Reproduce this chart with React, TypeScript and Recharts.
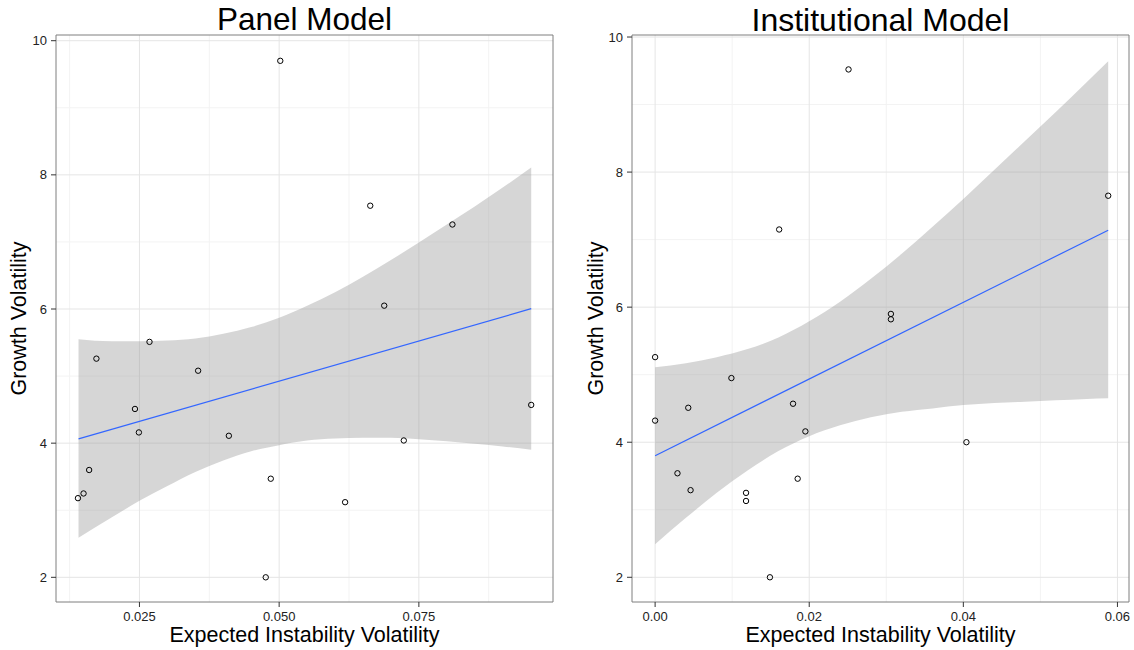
import React from 'react';
import {
  ComposedChart,
  XAxis,
  YAxis,
  Area,
  Line,
  Scatter,
  CartesianGrid,
  ReferenceArea,
  Label
} from 'recharts';

// Panel Model: scatter points
const panelX = [0.0502, 0.0663, 0.081, 0.0688, 0.0268, 0.0173, 0.0355, 0.0242, 0.0249, 0.041, 0.0951, 0.0723, 0.016, 0.0485, 0.015, 0.014, 0.0618, 0.0476];
const panelY = [9.7, 7.54, 7.26, 6.05, 5.51, 5.26, 5.08, 4.51, 4.16, 4.11, 4.57, 4.04, 3.6, 3.47, 3.25, 3.18, 3.12, 2.0];
// Panel Model: fitted line and confidence band
const panelFitX = [0.0141, 0.0951];
const panelFitY = [4.065, 6.005];
const panelBandX = [0.0141, 0.02, 0.025, 0.03, 0.035, 0.04, 0.045, 0.05, 0.055, 0.06, 0.065, 0.07, 0.075, 0.08, 0.085, 0.09, 0.0951];
const panelBandLo = [2.59, 2.89, 3.14, 3.36, 3.57, 3.74, 3.88, 3.97, 4.04, 4.07, 4.08, 4.08, 4.06, 4.03, 3.99, 3.95, 3.9];
const panelBandHi = [5.55, 5.52, 5.52, 5.53, 5.56, 5.63, 5.73, 5.87, 6.05, 6.25, 6.48, 6.73, 6.99, 7.26, 7.53, 7.81, 8.11];
const panelTicksX = [0.025, 0.05, 0.075];
const panelMinorX = [0.0125, 0.0375, 0.0625, 0.0875];

// Institutional Model
const instX = [0.0251, 0.0161, 0.0588, 0.0306, 0.0306, 0, 0.0099, 0.0043, 0.0179, 0, 0.0195, 0.0404, 0.0029, 0.0185, 0.0046, 0.0118, 0.0118, 0.0149];
const instY = [9.52, 7.15, 7.65, 5.9, 5.82, 5.26, 4.95, 4.51, 4.57, 4.32, 4.16, 4.0, 3.54, 3.46, 3.29, 3.25, 3.13, 2.0];
const instFitX = [0, 0.0588];
const instFitY = [3.8, 7.14];
const instBandX = [0, 0.004, 0.008, 0.012, 0.016, 0.02, 0.024, 0.028, 0.032, 0.036, 0.04, 0.044, 0.048, 0.052, 0.056, 0.0588];
const instBandLo = [2.49, 2.88, 3.25, 3.58, 3.87, 4.09, 4.25, 4.37, 4.45, 4.5, 4.55, 4.58, 4.6, 4.62, 4.64, 4.65];
const instBandHi = [5.11, 5.17, 5.26, 5.38, 5.55, 5.79, 6.08, 6.42, 6.79, 7.19, 7.6, 8.03, 8.46, 8.89, 9.33, 9.64];
const instTicksX = [0, 0.02, 0.04, 0.06];
const instMinorX = [0.01, 0.03, 0.05];

const ticksY = [2, 4, 6, 8, 10];
const minorY = [3, 5, 7, 9];

const FONT = '"Liberation Sans", Arial, Helvetica, sans-serif';

interface PanelProps {
  title: string;
  titleSize: number;
  left: number;
  xs: number[];
  ys: number[];
  fitX: number[];
  fitY: number[];
  bandX: number[];
  bandLo: number[];
  bandHi: number[];
  ticksX: number[];
  minorX: number[];
  xDomain: [number, number];
  yDomain: [number, number];
  digits: number;
  yAxisWidth: number;
  marginRight: number;
  yTitleOffset: number;
}

const OpenCircle = (props: any) => (
  <circle cx={props.cx} cy={props.cy} r={2.7} fill="none" stroke="#000" strokeWidth={1} />
);

const Panel: React.FC<PanelProps> = (p) => {
  const points = p.xs.map((x, i) => ({ x, y: p.ys[i] }));
  const fit = p.fitX.map((x, i) => ({ x, y: p.fitY[i] }));
  const band = p.bandX.map((x, i) => ({ x, band: [p.bandLo[i], p.bandHi[i]] }));
  const plotLeft = p.yAxisWidth;
  const plotWidth = 567 - p.yAxisWidth - p.marginRight;

  return (
    <div style={{ position: 'absolute', left: p.left, top: 0, width: 567, height: 650 }}>
      <div
        style={{
          position: 'absolute',
          left: plotLeft,
          width: plotWidth,
          top: 31 - Math.round(p.titleSize * 0.85),
          fontSize: p.titleSize,
          lineHeight: p.titleSize + 'px',
          textAlign: 'center',
          color: '#000',
          fontFamily: FONT
        }}
      >
        {p.title}
      </div>
      <ComposedChart
        width={567}
        height={650}
        margin={{ top: 35, right: p.marginRight, bottom: 0, left: 0 }}
        style={{ fontFamily: FONT }}
      >
        {/* minor grid, then major grid */}
        <CartesianGrid
          horizontalValues={minorY}
          verticalValues={p.minorX}
          stroke="#f3f3f3"
          strokeWidth={1}
        />
        <CartesianGrid
          horizontalValues={ticksY}
          verticalValues={p.ticksX}
          stroke="#e5e5e5"
          strokeWidth={1}
        />
        <XAxis
          type="number"
          dataKey="x"
          domain={p.xDomain}
          allowDataOverflow
          ticks={p.ticksX}
          tickFormatter={(v: number) => v.toFixed(p.digits)}
          height={48}
          axisLine={false}
          tickLine={{ stroke: '#333' }}
          tickSize={5}
          tickMargin={5}
          tick={{ fontSize: 13, fill: '#222' }}
        >
          <Label
            value="Expected Instability Volatility"
            position="insideBottom"
            offset={8}
            style={{ fontSize: 21.5, fill: '#000' }}
          />
        </XAxis>
        <YAxis
          type="number"
          dataKey="y"
          domain={p.yDomain}
          allowDataOverflow
          ticks={ticksY}
          width={p.yAxisWidth}
          axisLine={false}
          tickLine={{ stroke: '#333' }}
          tickSize={5}
          tickMargin={4}
          tick={{ fontSize: 13, fill: '#222' }}
        >
          <Label
            value="Growth Volatility"
            angle={-90}
            position="insideLeft"
            offset={p.yTitleOffset}
            style={{ fontSize: 21.5, fill: '#000', textAnchor: 'middle' }}
          />
        </YAxis>

        <Area
          data={band}
          dataKey="band"
          type="monotone"
          fill="#999999"
          fillOpacity={0.4}
          stroke="none"
          isAnimationActive={false}
        />
        <Line
          data={fit}
          dataKey="y"
          type="linear"
          stroke="#3366FF"
          strokeWidth={1.2}
          dot={false}
          isAnimationActive={false}
        />
        <Scatter data={points} dataKey="y" shape={OpenCircle} isAnimationActive={false} />

        <ReferenceArea
          x1={p.xDomain[0]}
          x2={p.xDomain[1]}
          y1={p.yDomain[0]}
          y2={p.yDomain[1]}
          fill="none"
          stroke="#7f7f7f"
          strokeWidth={1}
        />
      </ComposedChart>
    </div>
  );
};

const App: React.FC = () => {
  return (
    <div
      style={{
        position: 'absolute',
        left: 0,
        top: 0,
        width: 1134,
        height: 650,
        background: '#fff',
        fontFamily: FONT
      }}
    >
      <Panel
        title="Panel Model"
        titleSize={31.5}
        left={0}
        xs={panelX}
        ys={panelY}
        fitX={panelFitX}
        fitY={panelFitY}
        bandX={panelBandX}
        bandLo={panelBandLo}
        bandHi={panelBandHi}
        ticksX={panelTicksX}
        minorX={panelMinorX}
        xDomain={[0.01007, 0.099]}
        yDomain={[1.632, 10.085]}
        digits={3}
        yAxisWidth={56}
        marginRight={14}
        yTitleOffset={18}
      />
      <Panel
        title="Institutional Model"
        titleSize={32}
        left={567}
        xs={instX}
        ys={instY}
        fitX={instFitX}
        fitY={instFitY}
        bandX={instBandX}
        bandLo={instBandLo}
        bandHi={instBandHi}
        ticksX={instTicksX}
        minorX={instMinorX}
        xDomain={[-0.003, 0.0615]}
        yDomain={[1.634, 10.03]}
        digits={2}
        yAxisWidth={65}
        marginRight={5}
        yTitleOffset={28}
      />
    </div>
  );
};

export default App;
